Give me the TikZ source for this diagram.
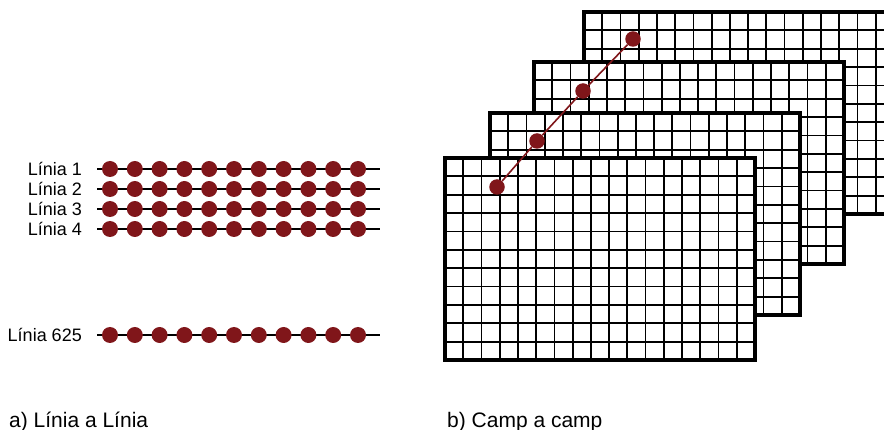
\documentclass[tikz,border=0pt]{standalone}
\usepackage{fontspec}
\setmainfont{Liberation Sans}
\usepackage{xcolor}
\usepackage{tikz}
\definecolor{dotred}{RGB}{128,22,26}

\begin{document}
\begin{tikzpicture}[x=1pt,y=-1pt,
  rowlabel/.style={inner sep=0pt,font=\fontsize{18}{20}\selectfont},
  sublabel/.style={inner sep=0pt,font=\fontsize{21}{23}\selectfont},
  scanline/.style={line width=1.8pt},
  pixel/.style={circle,fill=dotred,inner sep=0pt,minimum size=16pt},
  gridline/.style={line width=1.8pt},
  frameline/.style={line width=3.2pt},
  trail/.style={dotred,line width=1.6pt}]
  \useasboundingbox (0,0) rectangle (884,430);
  \clip (0,0) rectangle (884,430);
  % a) scan lines with their samples
  \foreach \n/\y in {1/169,2/189,3/209,4/229,625/335} {
    \node[rowlabel,anchor=base east] (lab\n) at (82,\y+6.6) {Línia \n};
    \coordinate (ls\n) at (97,\y);
    \coordinate (le\n) at (380,\y);
    \draw[scanline] (ls\n) -- (le\n);
    \foreach \k in {0,...,10}
      \node[pixel] (p\n-\k) at ({110+\k*24.8},\y) {};
  }
  % b) stacked fields, back to front
  \foreach \fx/\fy in {584/12,534/62,490/113,445/158} {
    \begin{scope}[shift={(\fx,\fy)}]
      \fill[white] (0,0) rectangle (310,202);
      \foreach \cc in {1,...,16}
        \draw[gridline] ({\cc*18.235},0) -- ({\cc*18.235},202);
      \foreach \rr in {1,...,10}
        \draw[gridline] (0,{\rr*18.364}) -- (310,{\rr*18.364});
      \draw[frameline] (0,0) rectangle (310,202);
    \end{scope}
  }
  % same pixel through the fields
  \node[pixel,minimum size=15.5pt] (f1) at (497,187) {};
  \node[pixel,minimum size=15.5pt] (f2) at (537,141) {};
  \node[pixel,minimum size=15.5pt] (f3) at (583,91) {};
  \node[pixel,minimum size=15.5pt] (f4) at (633,39) {};
  \draw[trail] (f1) -- (f2) -- (f3) -- (f4);
  % captions
  \node[sublabel,anchor=base west] (capa) at (9,427) {a) Línia a Línia};
  \node[sublabel,anchor=base west] (capb) at (447,427) {b) Camp a camp};
\end{tikzpicture}
\end{document}
